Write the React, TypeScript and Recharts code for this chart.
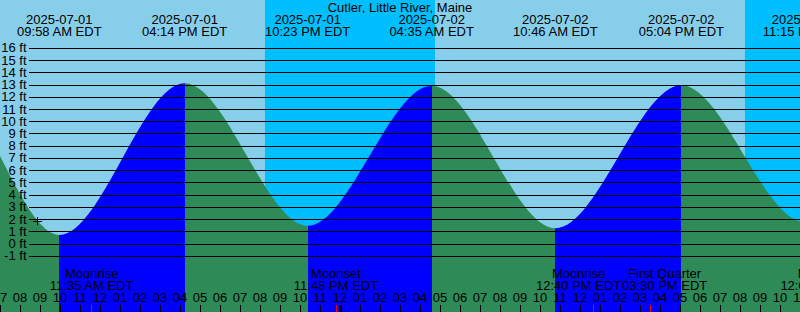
import {
  Area,
  ComposedChart,
  ReferenceArea,
  ReferenceDot,
  XAxis,
  YAxis,
} from "recharts";

// tide extremes, hours from 2025-07-01 00:00 EDT (first two and last two lie outside the window)
const tideTimes = [-2.0, 4.2, 9.967, 16.233, 22.383, 28.583, 34.767, 41.067, 47.25, 53.4];
const tideHeights = [1.4, 13.1, 0.75, 13.15, 1.5, 12.95, 1.3, 12.98, 1.8, 13.0];

// labels printed at the top for tideTimes[2..8]
const extremeDates = [
  "2025-07-01",
  "2025-07-01",
  "2025-07-01",
  "2025-07-02",
  "2025-07-02",
  "2025-07-02",
  "2025-07-02",
];
const extremeClock = [
  "09:58 AM EDT",
  "04:14 PM EDT",
  "10:23 PM EDT",
  "04:35 AM EDT",
  "10:46 AM EDT",
  "05:04 PM EDT",
  "11:15 PM EDT",
];

// moon events along the bottom
const eventTimes = [11.583, 23.8, 36.667, 39.5, 48.133];
const eventNames = ["Moonrise", "Moonset", "Moonrise", "First Quarter", "Moonset"];
const eventClock = [
  "11:35 AM EDT",
  "11:48 PM EDT",
  "12:40 PM EDT",
  "03:30 PM EDT",
  "12:08 AM EDT",
];

// sunset -> sunrise
const nightStarts = [20.25, 44.25];
const nightEnds = [28.75, 52.75];

const hourTicks = [
  7, 8, 9, 10, 11, 12, 13, 14, 15, 16, 17, 18, 19, 20, 21, 22, 23, 24, 25, 26, 27,
  28, 29, 30, 31, 32, 33, 34, 35, 36, 37, 38, 39, 40, 41, 42, 43, 44, 45, 46, 47,
];
const heightTicks = [-1, 0, 1, 2, 3, 4, 5, 6, 7, 8, 9, 10, 11, 12, 13, 14, 15, 16];

const nowTime = 8.89;
const nowHeight = 1.85;

const X_DOMAIN: [number, number] = [7, 47];
const Y_DOMAIN: [number, number] = [-5.55, 19.95];
const LABEL_GAP = 4.3; // min hours between event label centres

const RISE = "#0000FF";
const FALL = "#2E8B57";
const DAY = "#87CEEB";
const NIGHT = "#00BFFF";
const FONT = "'Liberation Sans', Arial, sans-serif";

const data = tideTimes.map((t, i) => ({ t, h: tideHeights[i] }));
const firstExtreme = 2;

// push neighbouring event labels apart so they don't collide
function spreadLabels(times: number[]) {
  const out = [...times];
  for (let i = 0; i < out.length - 1; i++) {
    const gap = out[i + 1] - out[i];
    if (gap < LABEL_GAP) {
      const d = (LABEL_GAP - gap) / 2;
      out[i] -= d;
      out[i + 1] += d;
    }
  }
  return out;
}
const labelTimes = spreadLabels(eventTimes);

function fillStops() {
  const first = tideTimes[0];
  const span = tideTimes[tideTimes.length - 1] - first;
  const stops = [];
  for (let i = 0; i < tideTimes.length - 1; i++) {
    const color = tideHeights[i + 1] > tideHeights[i] ? RISE : FALL;
    stops.push(
      <stop key={i + "a"} offset={(tideTimes[i] - first) / span} stopColor={color} />
    );
    stops.push(
      <stop key={i + "b"} offset={(tideTimes[i + 1] - first) / span} stopColor={color} />
    );
  }
  return stops;
}

function HeightTick({ y, payload }: any) {
  return (
    <g>
      <text x={26.5} y={y} dy={4} textAnchor="end" fontSize={13} fontFamily={FONT} fill="#000">
        {payload.value} ft
      </text>
      <line x1={29} x2={800} y1={y} y2={y} stroke="#000" shapeRendering="crispEdges" />
    </g>
  );
}

function HourTick({ x, payload }: any) {
  const v = payload.value;
  const h = v % 12 === 0 ? 12 : v % 12;
  return (
    <g>
      <text x={x} y={302} textAnchor="middle" fontSize={13} fontFamily={FONT} fill="#000">
        {String(h).padStart(2, "0")}
      </text>
      <line
        x1={x}
        x2={x}
        y1={305}
        y2={312}
        stroke="#000"
        strokeWidth={v % 24 === 0 ? 3 : 1}
        shapeRendering="crispEdges"
      />
    </g>
  );
}

export default function App() {
  return (
    <div
      style={{
        position: "absolute",
        left: 0,
        top: 0,
        width: 800,
        height: 312,
        background: DAY,
        fontFamily: FONT,
        overflow: "hidden",
      }}
    >
      <ComposedChart
        width={800}
        height={312}
        data={data}
        margin={{ top: 0, right: 0, bottom: 0, left: 0 }}
      >
        <defs>
          <linearGradient id="tideFill" x1="0" y1="0" x2="1" y2="0">
            {fillStops()}
          </linearGradient>
        </defs>
        {nightStarts.map((s, i) => (
          <ReferenceArea
            key={"n" + i}
            x1={s}
            x2={nightEnds[i]}
            fill={NIGHT}
            fillOpacity={1}
            stroke="none"
            ifOverflow="hidden"
          />
        ))}
        <Area
          type="monotone"
          dataKey="h"
          stroke="none"
          fill="url(#tideFill)"
          fillOpacity={1}
          baseValue="dataMin"
          dot={false}
          activeDot={false}
          isAnimationActive={false}
        />
        <XAxis
          type="number"
          dataKey="t"
          domain={X_DOMAIN}
          allowDataOverflow
          ticks={hourTicks}
          interval={0}
          mirror
          axisLine={false}
          tickLine={false}
          tick={<HourTick />}
        />
        <YAxis
          type="number"
          domain={Y_DOMAIN}
          allowDataOverflow
          ticks={heightTicks}
          interval={0}
          mirror
          axisLine={false}
          tickLine={false}
          tick={<HeightTick />}
        />
        {extremeClock.map((c, i) => (
          <ReferenceDot
            key={"x" + i}
            x={tideTimes[i + firstExtreme]}
            y={Y_DOMAIN[1]}
            ifOverflow="visible"
            shape={(p: any) => (
              <g fontSize={13} fontFamily={FONT} fill="#000" textAnchor="middle">
                <text x={p.cx} y={p.cy + 24}>{extremeDates[i]}</text>
                <text x={p.cx} y={p.cy + 35.7}>{c}</text>
              </g>
            )}
          />
        ))}
        {eventTimes.map((t, i) => (
          <ReferenceDot
            key={"e" + i}
            x={t}
            y={Y_DOMAIN[0]}
            ifOverflow="visible"
            shape={(p: any) => (
              <line
                x1={p.cx}
                x2={p.cx}
                y1={p.cy - 7}
                y2={p.cy}
                stroke="#FF0000"
                shapeRendering="crispEdges"
              />
            )}
          />
        ))}
        {labelTimes.map((t, i) => (
          <ReferenceDot
            key={"l" + i}
            x={t}
            y={Y_DOMAIN[0]}
            ifOverflow="visible"
            shape={(p: any) => (
              <g fontSize={13} fontFamily={FONT} fill="#000" textAnchor="middle">
                <text x={p.cx} y={p.cy - 33.7}>{eventNames[i]}</text>
                <text x={p.cx} y={p.cy - 22}>{eventClock[i]}</text>
              </g>
            )}
          />
        ))}
        <ReferenceDot
          x={nowTime}
          y={nowHeight}
          ifOverflow="visible"
          shape={(p: any) => (
            <g stroke="#000" shapeRendering="crispEdges">
              <line x1={p.cx - 4.5} x2={p.cx + 4.5} y1={p.cy} y2={p.cy} />
              <line x1={p.cx} x2={p.cx} y1={p.cy - 4} y2={p.cy + 4} />
            </g>
          )}
        />
      </ComposedChart>
      <div
        style={{
          position: "absolute",
          left: 0,
          top: 0,
          width: 800,
          textAlign: "center",
          fontSize: 13,
          lineHeight: "15px",
          color: "#000",
          pointerEvents: "none",
        }}
      >
        Cutler, Little River, Maine
      </div>
    </div>
  );
}
